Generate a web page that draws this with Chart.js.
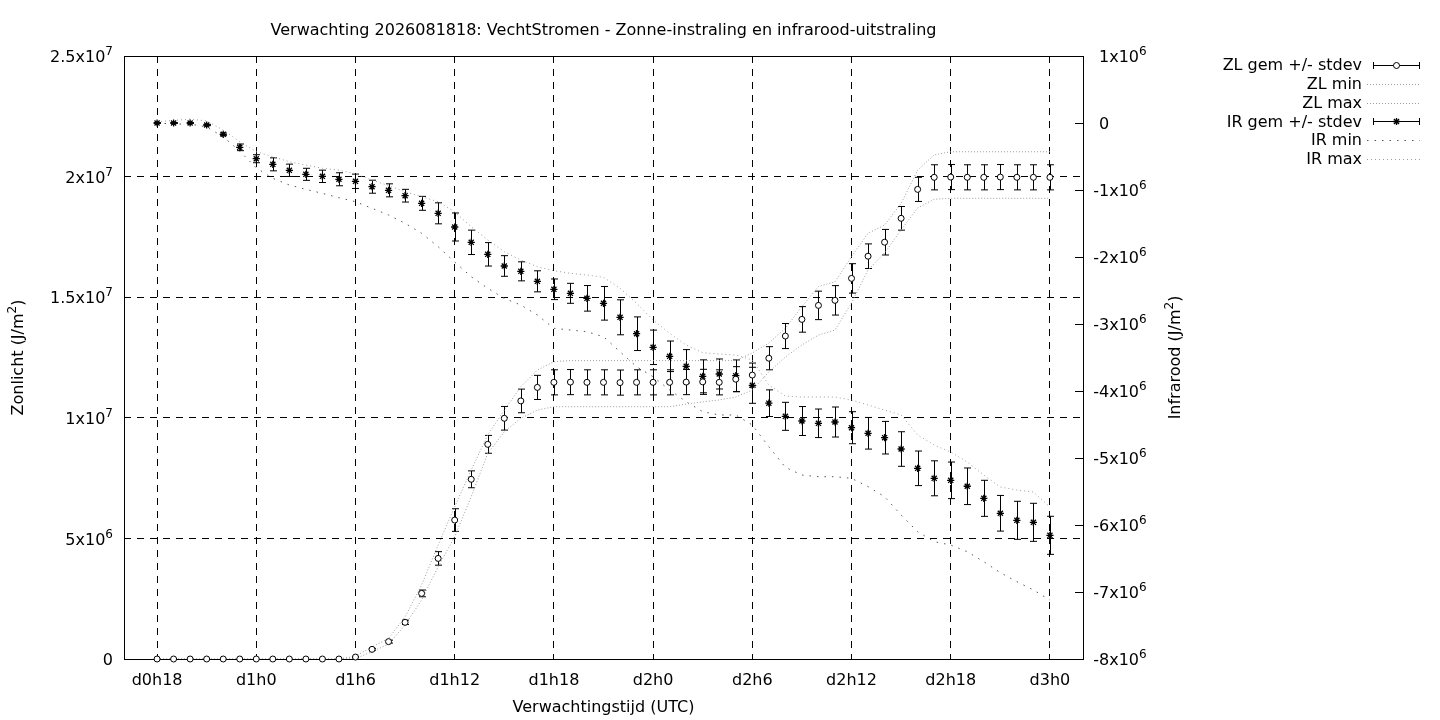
<!DOCTYPE html>
<html lang="nl">
<head>
<meta charset="utf-8">
<title>VechtStromen - Zonne-instraling en infrarood-uitstraling</title>
<script src="https://cdn.jsdelivr.net/npm/chart.js@4/dist/chart.umd.min.js"></script>
<style>
  html, body { margin: 0; padding: 0; background: #fff; }
  canvas { display: block; }
</style>
</head>
<body>
<canvas id="grafiek" width="1440" height="720"></canvas>
<script>
/* ----- data (J/m2, per uur vanaf d0h18) ----- */
const tijdLabels = ["d0h18", "d1h0", "d1h6", "d1h12", "d1h18", "d2h0", "d2h6", "d2h12", "d2h18", "d3h0"];
const linksTicks = ["0", "5x10^{6}", "1x10^{7}", "1.5x10^{7}", "2x10^{7}", "2.5x10^{7}"];
const rechtsTicks = ["-8x10^{6}", "-7x10^{6}", "-6x10^{6}", "-5x10^{6}", "-4x10^{6}", "-3x10^{6}", "-2x10^{6}", "-1x10^{6}", "0", "1x10^{6}"];

const zlGem = [
  0, 0, 0, 0, 0, 0, 0, 0, 0, 0, 0, 0,
  0.08e6, 0.40e6, 0.72e6, 1.52e6, 2.72e6, 4.17e6, 5.76e6, 7.45e6, 8.90e6, 9.98e6, 10.70e6, 11.26e6,
  11.47e6, 11.48e6, 11.47e6, 11.47e6, 11.46e6, 11.47e6, 11.47e6, 11.47e6, 11.48e6, 11.49e6, 11.47e6,
  11.60e6, 11.77e6, 12.47e6, 13.39e6, 14.08e6, 14.66e6, 14.87e6, 15.78e6, 16.70e6, 17.28e6, 18.27e6, 19.47e6,
  19.97e6, 19.98e6, 19.97e6, 19.97e6, 19.98e6, 19.97e6, 19.97e6, 19.97e6
];
const zlStdev = [
  0, 0, 0, 0, 0, 0, 0, 0, 0, 0, 0, 0,
  0.02e6, 0.04e6, 0.06e6, 0.09e6, 0.14e6, 0.28e6, 0.47e6, 0.35e6, 0.37e6, 0.49e6, 0.49e6, 0.50e6,
  0.52e6, 0.52e6, 0.52e6, 0.52e6, 0.52e6, 0.52e6, 0.52e6, 0.52e6, 0.52e6, 0.52e6, 0.52e6,
  0.52e6, 0.50e6, 0.48e6, 0.52e6, 0.53e6, 0.59e6, 0.61e6, 0.61e6, 0.51e6, 0.53e6, 0.49e6, 0.50e6,
  0.52e6, 0.52e6, 0.52e6, 0.52e6, 0.52e6, 0.52e6, 0.52e6, 0.52e6
];
const zlMin = [
  0, 0, 0, 0, 0, 0, 0, 0, 0, 0, 0, 0,
  0.02e6, 0.30e6, 0.62e6, 1.41e6, 2.45e6, 3.83e6, 5.07e6, 6.73e6, 8.53e6, 9.42e6, 9.98e6, 10.32e6,
  10.46e6, 10.46e6, 10.46e6, 10.46e6, 10.46e6, 10.46e6, 10.46e6, 10.46e6,
  10.57e6, 10.66e6, 10.74e6, 10.86e6, 11.15e6, 11.90e6, 12.52e6, 13.02e6, 13.43e6, 13.64e6, 14.76e6, 16.13e6,
  16.83e6, 17.79e6, 18.70e6, 19.06e6,
  19.10e6, 19.10e6, 19.10e6, 19.10e6, 19.10e6, 19.10e6, 19.10e6
];
const zlMax = [
  0, 0, 0, 0, 0, 0, 0, 0, 0, 0, 0, 0,
  0.12e6, 0.50e6, 0.85e6, 1.74e6, 3.07e6, 4.73e6, 6.31e6, 7.84e6, 9.29e6, 10.32e6, 11.29e6, 11.98e6, 12.33e6,
  12.37e6, 12.37e6, 12.37e6, 12.37e6, 12.37e6, 12.37e6, 12.37e6, 12.37e6, 12.37e6, 12.37e6, 12.37e6,
  12.69e6, 13.10e6, 13.71e6, 14.61e6, 15.44e6, 15.64e6, 16.68e6, 17.65e6, 17.99e6, 18.89e6, 20.27e6, 20.90e6,
  21.03e6, 21.03e6, 21.03e6, 21.03e6, 21.03e6, 21.03e6, 21.03e6
];

const irGem = [
  0, 0, 0, -0.03e6, -0.169e6, -0.363e6, -0.533e6, -0.617e6, -0.706e6, -0.766e6, -0.796e6, -0.840e6,
  -0.870e6, -0.951e6, -1.005e6, -1.085e6, -1.199e6, -1.348e6, -1.552e6, -1.781e6, -1.960e6, -2.134e6,
  -2.214e6, -2.363e6, -2.482e6, -2.542e6, -2.617e6, -2.691e6, -2.900e6, -3.145e6, -3.348e6, -3.482e6,
  -3.631e6, -3.781e6, -3.746e6, -3.772e6, -3.915e6, -4.182e6, -4.378e6, -4.448e6, -4.482e6, -4.463e6,
  -4.548e6, -4.631e6, -4.697e6, -4.866e6, -5.154e6, -5.303e6, -5.333e6, -5.422e6, -5.602e6, -5.825e6,
  -5.930e6, -5.960e6, -6.154e6
];
const irStdev = [
  0.005e6, 0.005e6, 0.005e6, 0.01e6, 0.02e6, 0.05e6, 0.06e6, 0.097e6, 0.092e6, 0.090e6, 0.092e6, 0.097e6,
  0.107e6, 0.097e6, 0.097e6, 0.095e6, 0.104e6, 0.157e6, 0.209e6, 0.182e6, 0.175e6, 0.154e6,
  0.142e6, 0.157e6, 0.154e6, 0.149e6, 0.191e6, 0.251e6, 0.261e6, 0.251e6, 0.257e6, 0.228e6,
  0.249e6, 0.246e6, 0.224e6, 0.236e6, 0.269e6, 0.199e6, 0.209e6, 0.216e6, 0.213e6, 0.224e6,
  0.239e6, 0.236e6, 0.243e6, 0.258e6, 0.258e6, 0.261e6, 0.273e6, 0.273e6, 0.269e6, 0.266e6,
  0.284e6, 0.284e6, 0.284e6
];
const irMin = [
  0, -0.015e6, -0.015e6, -0.06e6, -0.205e6, -0.42e6, -0.67e6, -0.826e6, -0.926e6, -0.990e6, -1.050e6, -1.115e6,
  -1.175e6, -1.273e6, -1.373e6, -1.497e6, -1.646e6, -1.846e6, -2.075e6, -2.294e6, -2.467e6, -2.617e6,
  -2.717e6, -2.866e6, -3.064e6, -3.090e6, -3.115e6, -3.190e6, -3.414e6, -3.637e6, -3.787e6, -3.985e6,
  -4.160e6, -4.309e6, -4.358e6, -4.358e6, -4.508e6, -4.831e6, -5.139e6, -5.254e6, -5.279e6, -5.279e6,
  -5.303e6, -5.428e6, -5.578e6, -5.851e6, -6.100e6, -6.249e6, -6.299e6, -6.399e6, -6.548e6, -6.712e6,
  -6.846e6, -6.970e6, -7.119e6
];
const irMax = [
  0.02e6, 0.037e6, 0.06e6, 0.03e6, -0.105e6, -0.279e6, -0.428e6, -0.503e6, -0.578e6, -0.627e6, -0.676e6, -0.702e6,
  -0.761e6, -0.851e6, -0.936e6, -1.025e6, -1.100e6, -1.175e6, -1.329e6, -1.548e6, -1.746e6, -1.921e6,
  -2.045e6, -2.145e6, -2.205e6, -2.243e6, -2.269e6, -2.303e6, -2.467e6, -2.691e6, -2.940e6, -3.139e6,
  -3.314e6, -3.429e6, -3.448e6, -3.463e6, -3.537e6, -3.911e6, -4.075e6, -4.090e6, -4.090e6, -4.090e6,
  -4.134e6, -4.209e6, -4.284e6, -4.358e6, -4.657e6, -4.806e6, -4.911e6, -5.060e6, -5.254e6, -5.433e6,
  -5.478e6, -5.508e6, -5.731e6
];

/* ----- stijl ----- */
const FONT = "16px 'DejaVu Sans'";
const FONT_MACHT = "12px 'DejaVu Sans'";
const GRIJS = "#9c9c9c";
const legendaRegels = [
  { tekst: "ZL gem +/- stdev", soort: "fout", punt: "circle" },
  { tekst: "ZL min", soort: "lijn", kleur: GRIJS, streep: [1, 2] },
  { tekst: "ZL max", soort: "lijn", kleur: GRIJS, streep: [1, 2] },
  { tekst: "IR gem +/- stdev", soort: "fout", punt: "star" },
  { tekst: "IR min", soort: "lijn", kleur: "#555", streep: [1.5, 6] },
  { tekst: "IR max", soort: "lijn", kleur: GRIJS, streep: [1, 3] },
];

const punten = (reeks) => reeks.map((v, i) => ({ x: i, y: v }));

/* ----- tekst met superscript, b.v. "5x10^{6}" ----- */
function stukken(tekst) {
  const delen = tekst.split(/\^\{([^}]*)\}/);
  return delen.map((d, k) => ({ t: d, sup: k % 2 === 1 })).filter((d) => d.t !== "");
}

function breedte(ctx, tekst) {
  let w = 0;
  stukken(tekst).forEach((s) => {
    ctx.font = s.sup ? FONT_MACHT : FONT;
    w += ctx.measureText(s.t).width;
  });
  return w;
}

function schrijf(ctx, tekst, x, y, uitlijning) {
  const w = breedte(ctx, tekst);
  let start = x;
  if (uitlijning === "right") start = x - w;
  if (uitlijning === "center") start = x - w / 2;
  y += 2; // gnuplot zet tekst iets lager dan canvas "middle"
  ctx.textAlign = "left";
  ctx.textBaseline = "middle";
  ctx.fillStyle = "#000";
  stukken(tekst).forEach((s) => {
    ctx.font = s.sup ? FONT_MACHT : FONT;
    ctx.fillText(s.t, start, s.sup ? y - 6 : y);
    start += ctx.measureText(s.t).width;
  });
}

function foutbalk(ctx, x, boven, onder) {
  ctx.beginPath();
  ctx.moveTo(x, boven);
  ctx.lineTo(x, onder);
  ctx.moveTo(x - 3.5, boven);
  ctx.lineTo(x + 3.5, boven);
  ctx.moveTo(x - 3.5, onder);
  ctx.lineTo(x + 3.5, onder);
  ctx.stroke();
}

function punt(ctx, soort, x, y) {
  ctx.beginPath();
  if (soort === "circle") {
    ctx.fillStyle = "#fff";
    ctx.arc(x, y, 3, 0, 2 * Math.PI);
    ctx.fill();
    ctx.stroke();
  } else {
    const r = 3.6;
    const d = r * Math.SQRT1_2;
    ctx.lineWidth = 1.3;
    ctx.moveTo(x - r, y); ctx.lineTo(x + r, y);
    ctx.moveTo(x, y - r); ctx.lineTo(x, y + r);
    ctx.moveTo(x - d, y - d); ctx.lineTo(x + d, y + d);
    ctx.moveTo(x - d, y + d); ctx.lineTo(x + d, y - d);
    ctx.stroke();
  }
}

/* ----- plugins ----- */
const foutbalken = {
  id: "foutbalken",
  beforeDatasetsDraw(chart) {
    const ctx = chart.ctx;
    const x = chart.scales.x;
    const area = chart.chartArea;
    ctx.save();
    ctx.strokeStyle = "#000";
    ctx.lineWidth = 1;
    ctx.setLineDash([]);
    // kader, op dezelfde pixels als de gridlijnen
    ctx.strokeRect(area.left + 0.5, area.top + 0.5, area.right - area.left, area.bottom - area.top);
    // tickjes rechteras naar binnen
    chart.scales.y1.ticks.forEach((t) => {
      const py = Math.round(chart.scales.y1.getPixelForValue(t.value)) + 0.5;
      ctx.beginPath();
      ctx.moveTo(area.right - 8, py);
      ctx.lineTo(area.right, py);
      ctx.stroke();
    });
    [[zlGem, zlStdev, "y"], [irGem, irStdev, "y1"]].forEach(([gem, sd, as]) => {
      const ys = chart.scales[as];
      gem.forEach((v, i) => {
        if (!sd[i]) return;
        const px = Math.round(x.getPixelForValue(i)) + 0.5;
        foutbalk(ctx, px, ys.getPixelForValue(v + sd[i]), ys.getPixelForValue(v - sd[i]));
      });
    });
    ctx.restore();
  },
};

const teksten = {
  id: "teksten",
  afterDraw(chart) {
    const ctx = chart.ctx;
    const area = chart.chartArea;
    const midden = (area.left + area.right) / 2;
    ctx.save();

    schrijf(ctx, "Verwachting 2026081818: VechtStromen - Zonne-instraling en infrarood-uitstraling", midden, 29, "center");
    schrijf(ctx, "Verwachtingstijd (UTC)", midden, 706, "center");

    chart.scales.x.ticks.forEach((t, k) => {
      schrijf(ctx, tijdLabels[k], chart.scales.x.getPixelForValue(t.value), 679, "center");
    });
    chart.scales.y.ticks.forEach((t, k) => {
      schrijf(ctx, linksTicks[k], 113, chart.scales.y.getPixelForValue(t.value), "right");
    });
    chart.scales.y1.ticks.forEach((t, k) => {
      const label = rechtsTicks[k];
      ctx.font = FONT;
      const inspring = label[0] === "-" ? ctx.measureText("-").width : 0;
      schrijf(ctx, label, area.right + 16 - inspring, chart.scales.y1.getPixelForValue(t.value), "left");
    });

    ctx.save();
    ctx.translate(17, (area.top + area.bottom) / 2);
    ctx.rotate(-Math.PI / 2);
    schrijf(ctx, "Zonlicht (J/m^{2})", 0, 0, "center");
    ctx.restore();
    ctx.save();
    ctx.translate(1174, (area.top + area.bottom) / 2);
    ctx.rotate(-Math.PI / 2);
    schrijf(ctx, "Infrarood (J/m^{2})", 0, 0, "center");
    ctx.restore();

    // legenda
    legendaRegels.forEach((r, k) => {
      const y = 64 + k * 18.8;
      schrijf(ctx, r.tekst, 1362, y, "right");
      ctx.strokeStyle = "#000";
      ctx.lineWidth = 1;
      const py = Math.round(y + 1) + 0.5;
      if (r.soort === "fout") {
        ctx.setLineDash([]);
        ctx.beginPath();
        ctx.moveTo(1373, py); ctx.lineTo(1420, py);
        ctx.moveTo(1373.5, py - 3.5); ctx.lineTo(1373.5, py + 3.5);
        ctx.moveTo(1419.5, py - 3.5); ctx.lineTo(1419.5, py + 3.5);
        ctx.stroke();
        punt(ctx, r.punt, 1396.5, py);
      } else {
        ctx.strokeStyle = r.kleur;
        ctx.setLineDash(r.streep);
        ctx.beginPath();
        ctx.moveTo(1367, py); ctx.lineTo(1420, py);
        ctx.stroke();
      }
    });
    ctx.restore();
  },
};

/* ----- grafiek ----- */
const lijn = (data, kleur, streep, as) => ({
  data: punten(data),
  yAxisID: as,
  borderColor: kleur,
  borderWidth: 1,
  borderDash: streep,
  pointRadius: 0,
  fill: false,
  tension: 0,
});

const grafiek = new Chart("grafiek", {
  type: "line",
  data: {
    datasets: [
      {
        label: "ZL gem +/- stdev",
        data: punten(zlGem),
        yAxisID: "y",
        showLine: false,
        clip: false,
        pointStyle: "circle",
        pointRadius: 3,
        pointBorderWidth: 1,
        pointBackgroundColor: "#fff",
        pointBorderColor: "#000",
      },
      { label: "ZL min", ...lijn(zlMin, GRIJS, [1, 2], "y") },
      { label: "ZL max", ...lijn(zlMax, GRIJS, [1, 2], "y") },
      {
        label: "IR gem +/- stdev",
        data: punten(irGem),
        yAxisID: "y1",
        showLine: false,
        clip: false,
        pointStyle: "star",
        pointRadius: 3.6,
        pointBorderWidth: 1.3,
        pointBorderColor: "#000",
      },
      { label: "IR min", ...lijn(irMin, "#555", [1.5, 6], "y1") },
      { label: "IR max", ...lijn(irMax, GRIJS, [1, 3], "y1") },
    ],
  },
  options: {
    responsive: false,
    animation: false,
    devicePixelRatio: 1,
    layout: { padding: { top: 56, left: 0, right: 0, bottom: 0 } },
    plugins: { legend: { display: false }, title: { display: false }, tooltip: { enabled: false } },
    scales: {
      x: {
        type: "linear",
        position: "bottom",
        min: -2,
        max: 56,
        afterBuildTicks: (s) => { s.ticks = tijdLabels.map((_, k) => ({ value: k * 6 })); },
        afterFit: (s) => { s.height = 61; },
        ticks: { display: false },
        grid: { color: "#000", lineWidth: 1, drawTicks: false, tickLength: 0 },
        border: { display: false, dash: [7, 6] },
      },
      y: {
        position: "left",
        min: 0,
        max: 2.5e7,
        afterBuildTicks: (s) => { s.ticks = linksTicks.map((_, k) => ({ value: k * 5e6 })); },
        afterFit: (s) => { s.width = 124; },
        ticks: { display: false },
        grid: { color: "#000", lineWidth: 1, drawTicks: false, tickLength: 0 },
        border: { display: false, dash: [7, 6] },
      },
      y1: {
        position: "right",
        min: -8e6,
        max: 1e6,
        afterBuildTicks: (s) => { s.ticks = rechtsTicks.map((_, k) => ({ value: -8e6 + k * 1e6 })); },
        afterFit: (s) => { s.width = 357; },
        ticks: { display: false },
        grid: { display: false, drawTicks: false },
        border: { display: false },
      },
    },
  },
  plugins: [foutbalken, teksten],
});
</script>
</body>
</html>
